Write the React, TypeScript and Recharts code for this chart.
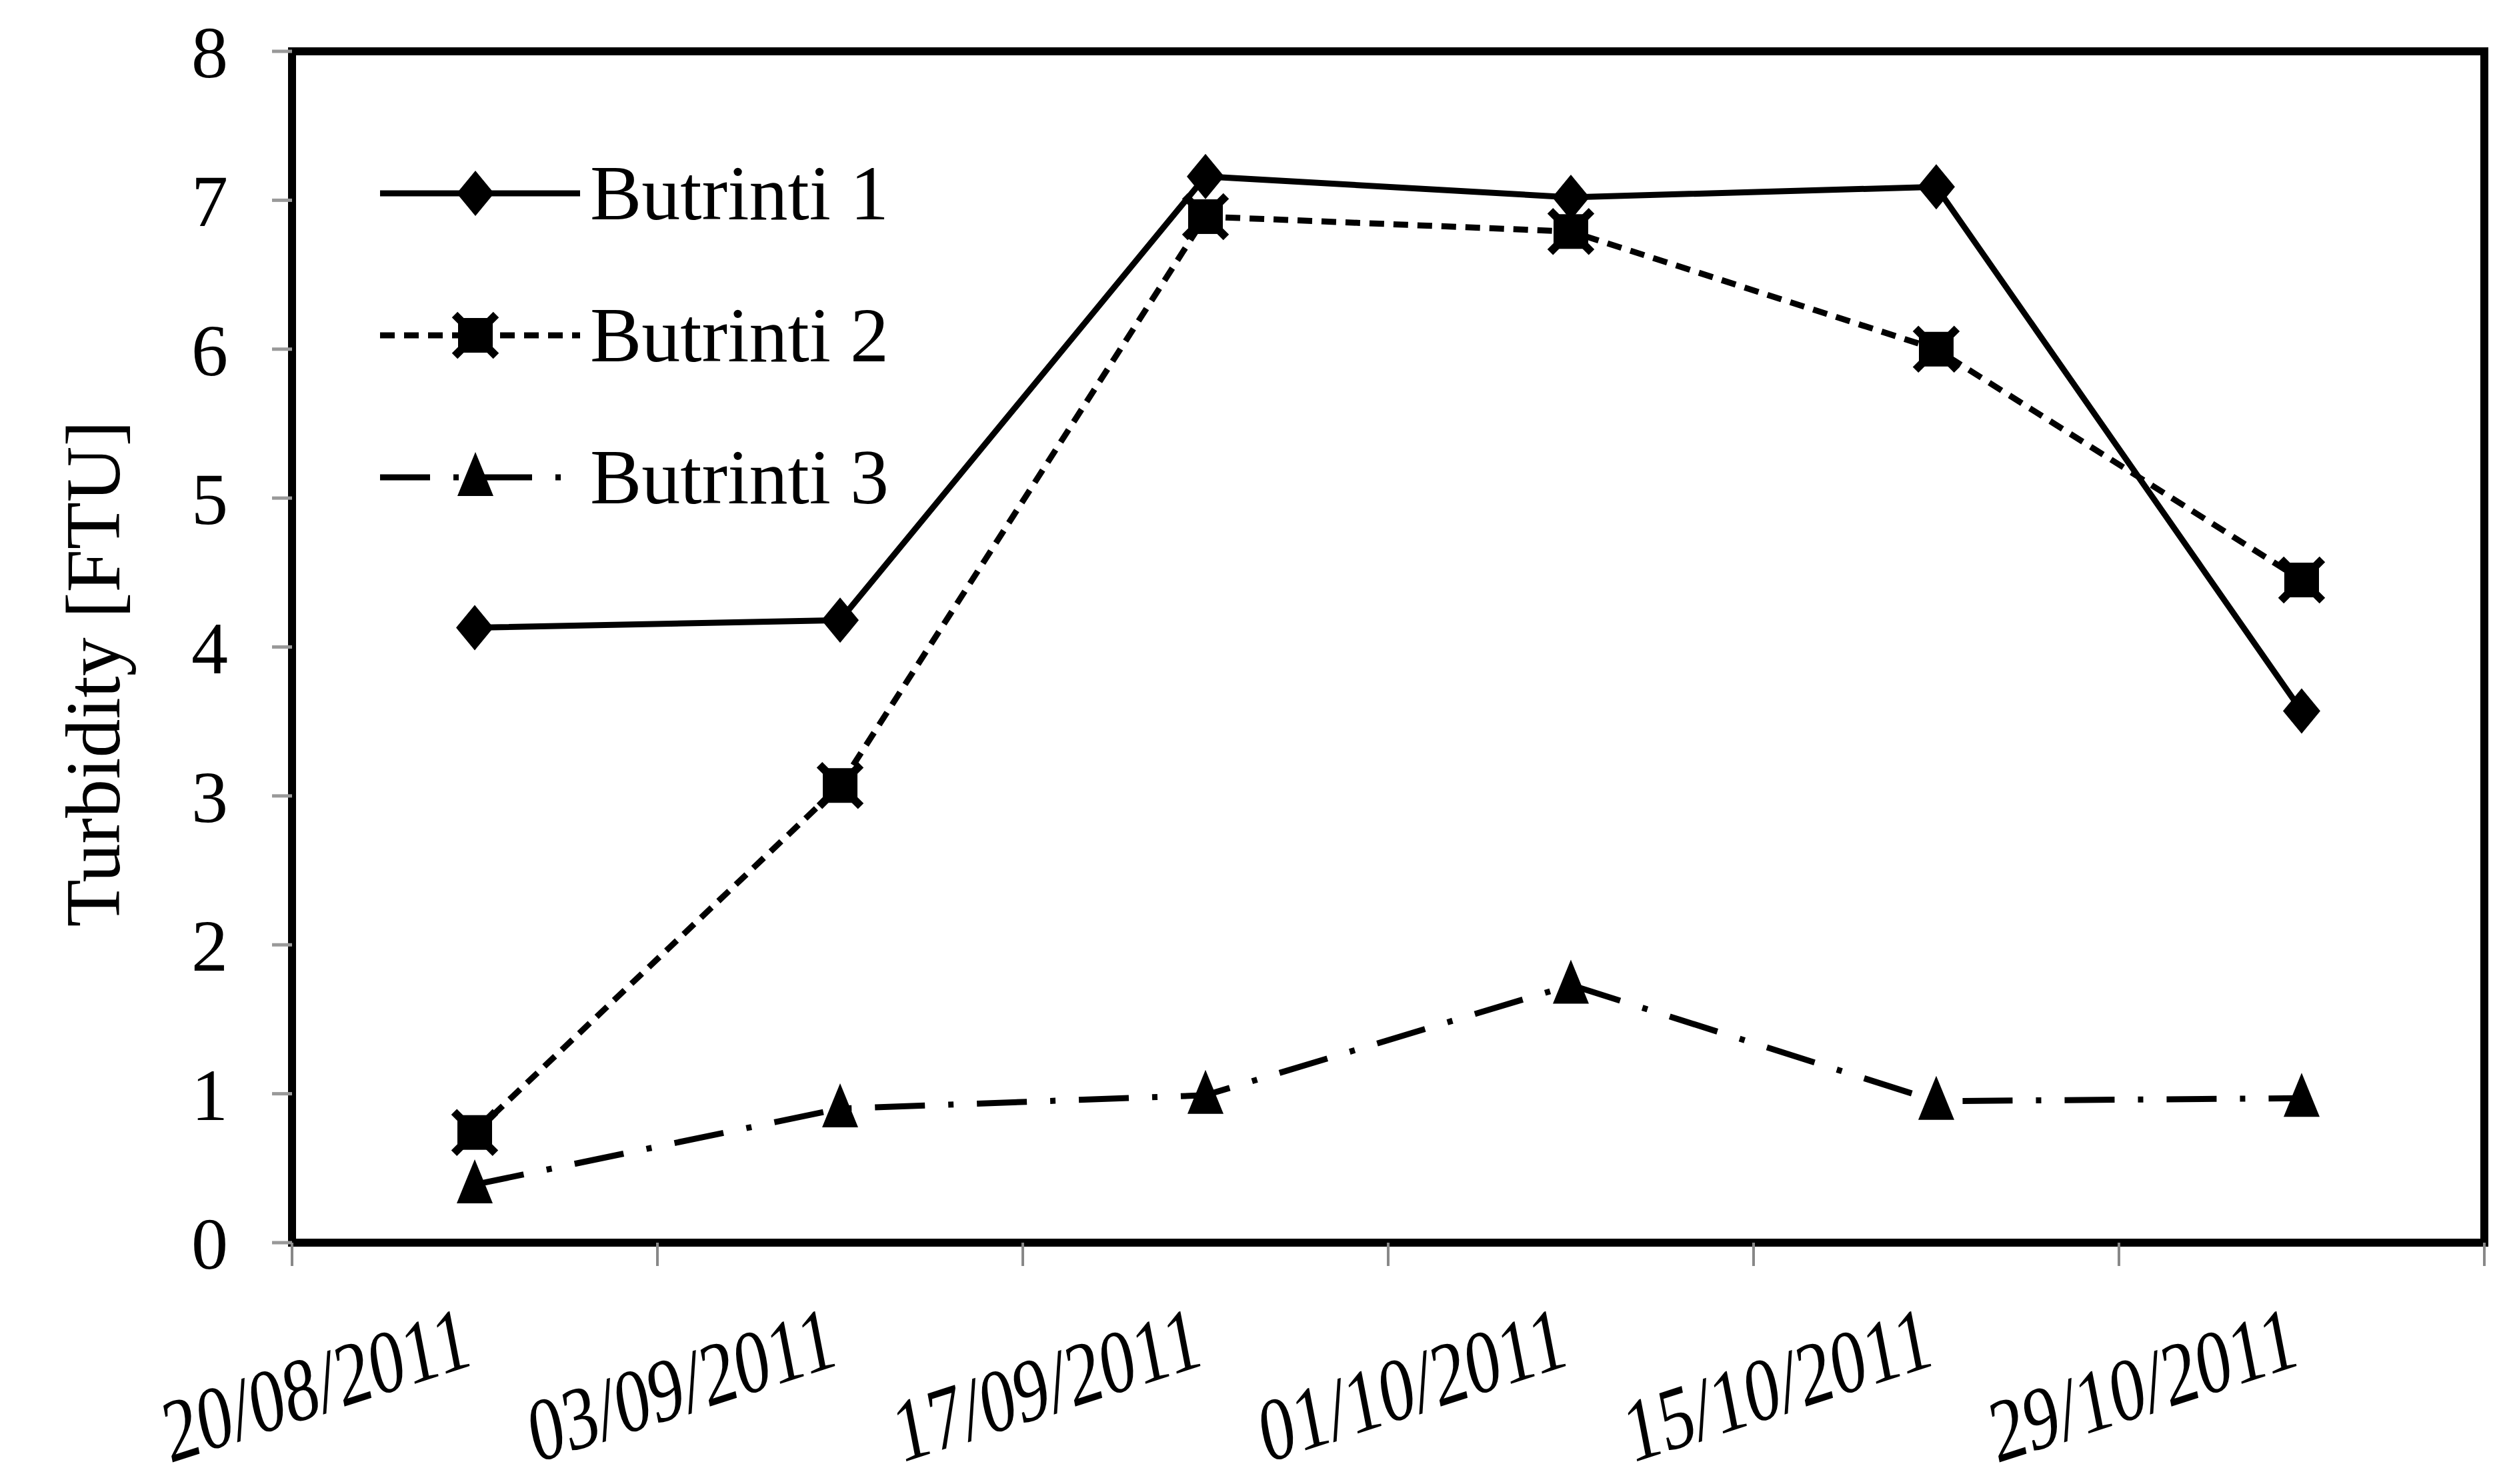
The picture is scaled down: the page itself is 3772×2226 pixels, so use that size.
import { LineChart, Line, XAxis, YAxis, Legend, ReferenceArea } from "recharts";

const sampleDates = ["27/08/2011", "10/09/2011", "24/09/2011", "08/10/2011", "22/10/2011", "05/11/2011"];
const butrinti1 = [4.13, 4.18, 7.16, 7.02, 7.09, 3.57];
const butrinti2 = [0.74, 3.07, 6.89, 6.79, 6.0, 4.45];
const butrinti3 = [0.39, 0.9, 0.99, 1.73, 0.95, 0.97];

const xTickDates = ["20/08/2011", "03/09/2011", "17/09/2011", "01/10/2011", "15/10/2011", "29/10/2011", "12/11/2011"];
const xTickLabels = ["20/08/2011", "03/09/2011", "17/09/2011", "01/10/2011", "15/10/2011", "29/10/2011", ""];
const yTicks = [0, 1, 2, 3, 4, 5, 6, 7, 8];

const DAY = 86400000;
const toDay = (s: string) => {
  const [d, m, y] = s.split("/").map(Number);
  return Date.UTC(y, m - 1, d) / DAY;
};

const data = sampleDates.map((d, i) => ({
  t: toDay(d),
  b1: butrinti1[i],
  b2: butrinti2[i],
  b3: butrinti3[i],
}));
const xTicks = xTickDates.map(toDay);

const FONT = "'Liberation Serif', 'Times New Roman', serif";

const Diamond = (p: any) => {
  const { cx, cy } = p;
  if (cx == null || cy == null) return null;
  return <path d={`M${cx},${cy - 34} L${cx + 28},${cy} L${cx},${cy + 34} L${cx - 28},${cy} Z`} fill="#000" />;
};

const StarSquare = (p: any) => {
  const { cx, cy } = p;
  if (cx == null || cy == null) return null;
  return (
    <g>
      <rect x={cx - 26} y={cy - 26} width={52} height={52} fill="#000" />
      <path d={`M${cx - 31},${cy - 31} L${cx + 31},${cy + 31} M${cx + 31},${cy - 31} L${cx - 31},${cy + 31}`} stroke="#000" strokeWidth={12} />
    </g>
  );
};

const Triangle = (p: any) => {
  const { cx, cy } = p;
  if (cx == null || cy == null) return null;
  return <path d={`M${cx},${cy - 38} L${cx + 27},${cy + 28} L${cx - 27},${cy + 28} Z`} fill="#000" />;
};

const XTick = (p: any) => {
  const { x, y, index } = p;
  const label = xTickLabels[index] ?? "";
  return (
    <g transform={`translate(${x + 36},${y + 176}) scale(1,1.3) rotate(-14)`}>
      <text x={0} y={0} textAnchor="middle" dominantBaseline="central" fontFamily={FONT} fontSize={104} fill="#000">
        {label}
      </text>
    </g>
  );
};

const YLabel = (p: any) => {
  const vb = p.viewBox || {};
  const x = vb.x + 2;
  const y = vb.y + vb.height / 2 + 40;
  return (
    <text x={x} y={y} transform={`rotate(-90 ${x} ${y})`} textAnchor="middle" dominantBaseline="central" fontFamily={FONT} fontSize={116} fill="#000">
      Turbidity [FTU]
    </text>
  );
};

const legendItems = [
  { name: "Butrinti 1", dash: undefined as string | undefined, Marker: Diamond },
  { name: "Butrinti 2", dash: "22 14", Marker: StarSquare },
  { name: "Butrinti 3", dash: "75 35 8 35", Marker: Triangle },
];

const LegendBox = () => (
  <svg width={1000} height={640} style={{ overflow: "visible" }}>
    {legendItems.map((it, i) => {
      const y = 50 + i * 213;
      const M = it.Marker;
      return (
        <g key={it.name}>
          <line x1={15} x2={315} y1={y} y2={y} stroke="#000" strokeWidth={9} strokeDasharray={it.dash} />
          <M cx={158} cy={y} />
          <text x={330} y={y} dominantBaseline="central" fontFamily={FONT} fontSize={116} fill="#000">
            {it.name}
          </text>
        </g>
      );
    })}
  </svg>
);

export default function App() {
  return (
    <div style={{ position: "absolute", left: 0, top: 0, width: 3772, height: 2226, background: "#fff" }}>
      <LineChart width={3772} height={2226} data={data} margin={{ top: 77, right: 46, bottom: 332, left: 138 }}>
        <XAxis
          dataKey="t"
          type="number"
          domain={[xTicks[0], xTicks[xTicks.length - 1]]}
          ticks={xTicks}
          interval={0}
          tick={<XTick />}
          tickSize={35}
          tickLine={{ stroke: "#888", strokeWidth: 4 }}
          axisLine={false}
        />
        <YAxis
          domain={[0, 8]}
          ticks={yTicks}
          width={300}
          tickSize={30}
          tickMargin={66}
          tickLine={{ stroke: "#999", strokeWidth: 5 }}
          axisLine={false}
          tick={{ fontFamily: FONT, fontSize: 110, fill: "#000" }}
          label={<YLabel />}
        />
        <ReferenceArea
          x1={xTicks[0]}
          x2={xTicks[xTicks.length - 1]}
          y1={0}
          y2={8}
          fill="none"
          stroke="#000"
          strokeWidth={12}
          ifOverflow="visible"
        />
        <ReferenceArea
          x1={xTicks[0]}
          x2={xTicks[xTicks.length - 1]}
          y1={0}
          y2={0}
          fill="none"
          stroke="#000"
          strokeWidth={17}
          ifOverflow="visible"
        />
        <Line dataKey="b1" name="Butrinti 1" stroke="#000" strokeWidth={9} dot={<Diamond />} isAnimationActive={false} />
        <Line dataKey="b2" name="Butrinti 2" stroke="#000" strokeWidth={9} strokeDasharray="22 14" dot={<StarSquare />} isAnimationActive={false} />
        <Line dataKey="b3" name="Butrinti 3" stroke="#000" strokeWidth={9} strokeDasharray="75 35 8 35" dot={<Triangle />} isAnimationActive={false} />
        <Legend
          content={<LegendBox />}
          wrapperStyle={{ position: "absolute", left: 555, top: 240, width: 0, height: 0, overflow: "visible" }}
        />
      </LineChart>
    </div>
  );
}
